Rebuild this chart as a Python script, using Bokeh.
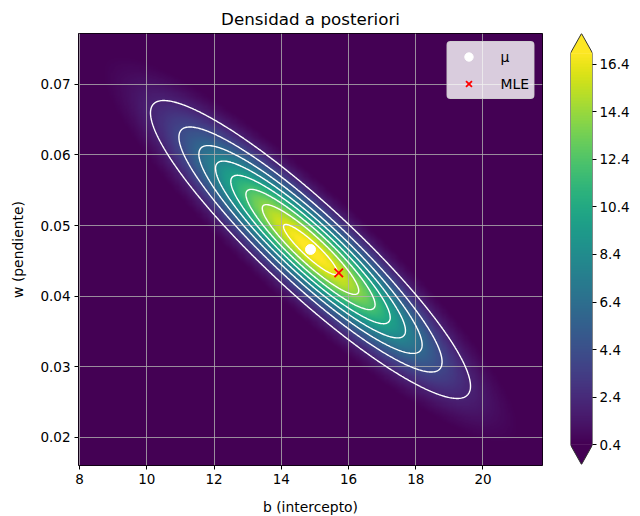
import numpy as np
from bokeh.plotting import figure
from bokeh.layouts import row
from bokeh.models import (Range1d, LinearColorMapper, FixedTicker, Legend, LegendItem,
                          NumeralTickFormatter)
from bokeh.palettes import Viridis256
from bokeh.embed import file_html
from bokeh.resources import INLINE

# ---- data ----
post_mean = [14.87, 0.0466]        # mu (b, w)
post_sd = [2.30, 0.0102]           # std devs of b, w
post_rho = -0.917                  # correlation
mle = [15.71, 0.0433]              # MLE (b, w)
contour_levels = [2, 4, 6, 8, 10, 12, 14, 16]
cbar_low, cbar_high = 0.4, 16.86
cbar_ticks = [0.4, 2.4, 4.4, 6.4, 8.4, 10.4, 12.4, 14.4, 16.4]
x_ticks = [8, 10, 12, 14, 16, 18, 20]
y_ticks = [0.02, 0.03, 0.04, 0.05, 0.06, 0.07]

FONT = "DejaVu Sans"
TICK_SIZE = "13.5px"
TXT = "black"

xlo, xhi = post_mean[0] - 3 * post_sd[0], post_mean[0] + 3 * post_sd[0]
ylo, yhi = post_mean[1] - 3 * post_sd[1], post_mean[1] + 3 * post_sd[1]

bb = np.linspace(xlo, xhi, 400)
ww = np.linspace(ylo, yhi, 400)
B, W = np.meshgrid(bb, ww)
zb = (B - post_mean[0]) / post_sd[0]
zw = (W - post_mean[1]) / post_sd[1]
q = (zb**2 - 2 * post_rho * zb * zw + zw**2) / (1 - post_rho**2)
Z = np.exp(-q / 2) / (2 * np.pi * post_sd[0] * post_sd[1] * np.sqrt(1 - post_rho**2))

mapper = LinearColorMapper(palette=Viridis256, low=cbar_low, high=cbar_high,
                           low_color=Viridis256[0], high_color=Viridis256[-1])

p = figure(frame_width=464, frame_height=432, output_backend="svg", toolbar_location=None,
           x_range=Range1d(xlo, xhi), y_range=Range1d(ylo, yhi),
           title="Densidad a posteriori",
           min_border_left=78, min_border_top=33, min_border_right=10, min_border_bottom=50)
p.background_fill_color = Viridis256[0]
p.border_fill_color = "white"
p.outline_line_color = "black"
p.outline_line_width = 1

img = p.image(image=[Z], x=xlo, y=ylo, dw=xhi - xlo, dh=yhi - ylo, color_mapper=mapper)
img.level = "image"

p.contour(bb, ww, Z, levels=contour_levels, line_color="white", line_width=1.4)

r_mu = p.scatter([post_mean[0]], [post_mean[1]], marker="circle", size=10,
                 fill_color="white", line_color="white")
r_mle = p.scatter([mle[0]], [mle[1]], marker="x", size=12, line_color="red", line_width=1.8)

legend = Legend(items=[LegendItem(label="μ", renderers=[r_mu]),
                       LegendItem(label="MLE", renderers=[r_mle])],
                location="top_right", margin=8, padding=4, spacing=6,
                label_height=21, glyph_height=21, glyph_width=34, label_standoff=15,
                background_fill_color="white", background_fill_alpha=0.8,
                border_line_color="#cccccc", border_line_alpha=0.8,
                label_text_font=FONT, label_text_font_size="13.9px", label_text_color=TXT)
if "border_radius" in Legend.properties():
    legend.border_radius = 4
p.add_layout(legend)

p.title.align = "center"
p.title.text_font = FONT
p.title.text_font_size = "16.7px"
p.title.text_font_style = "normal"
p.title.text_color = TXT
p.title.standoff = 9

p.xgrid.ticker = FixedTicker(ticks=x_ticks)
p.ygrid.ticker = FixedTicker(ticks=y_ticks)
for g in (p.xgrid, p.ygrid):
    g.grid_line_color = "#b0b0b0"
    g.grid_line_width = 0.8
    g.level = "underlay"

p.xaxis.ticker = FixedTicker(ticks=x_ticks)
p.yaxis.ticker = FixedTicker(ticks=y_ticks)
p.yaxis.formatter = NumeralTickFormatter(format="0.00")
p.xaxis.axis_label = "b (intercepto)"
p.yaxis.axis_label = "w (pendiente)"
for ax in (p.xaxis, p.yaxis):
    ax.major_tick_in = 0
    ax.major_tick_out = 4
    ax.minor_tick_line_color = None
    ax.axis_line_color = None
    ax.major_tick_line_color = "black"
    ax.major_label_text_font = FONT
    ax.major_label_text_font_size = TICK_SIZE
    ax.major_label_text_color = TXT
    ax.axis_label_text_font = FONT
    ax.axis_label_text_font_size = "13.9px"
    ax.axis_label_text_font_style = "normal"
    ax.axis_label_text_color = TXT
    ax.major_label_standoff = 4
p.xaxis.axis_label_standoff = 12
p.yaxis.axis_label_standoff = 11

# ---- colorbar as a separate figure ----
ext = 0.05 * (cbar_high - cbar_low)
cb = figure(frame_width=22, frame_height=431, output_backend="svg", toolbar_location=None,
            x_range=Range1d(0, 1), y_range=Range1d(cbar_low - ext, cbar_high + ext),
            y_axis_location="right",
            min_border_left=18, min_border_top=33, min_border_right=38, min_border_bottom=51)
cb.outline_line_color = None
cb.xaxis.visible = False
cb.grid.visible = False
cb.background_fill_color = "white"
grad = np.linspace(cbar_low, cbar_high, 256).reshape(256, 1)
cb.image(image=[grad], x=0, y=cbar_low, dw=1, dh=cbar_high - cbar_low, color_mapper=mapper)
cb.patches(xs=[[0, 1, 0.5], [0, 1, 0.5]],
           ys=[[cbar_high, cbar_high, cbar_high + ext], [cbar_low, cbar_low, cbar_low - ext]],
           fill_color=[Viridis256[-1], Viridis256[0]], line_color=None)
cb.line(x=[0, 0, 0.5, 1, 1, 0.5, 0],
        y=[cbar_low, cbar_high, cbar_high + ext, cbar_high, cbar_low, cbar_low - ext, cbar_low],
        line_color="#333333", line_width=1)
cb.yaxis.ticker = FixedTicker(ticks=cbar_ticks)
cb.yaxis.formatter = NumeralTickFormatter(format="0.0")
cb.yaxis.axis_line_color = None
cb.yaxis.major_tick_in = 0
cb.yaxis.major_tick_out = 4
cb.yaxis.minor_tick_line_color = None
cb.yaxis.major_label_text_font = FONT
cb.yaxis.major_label_text_font_size = TICK_SIZE
cb.yaxis.major_label_text_color = TXT
cb.yaxis.major_label_standoff = 3

layout = row(p, cb)
open("out.html", "w").write(file_html(layout, INLINE))
